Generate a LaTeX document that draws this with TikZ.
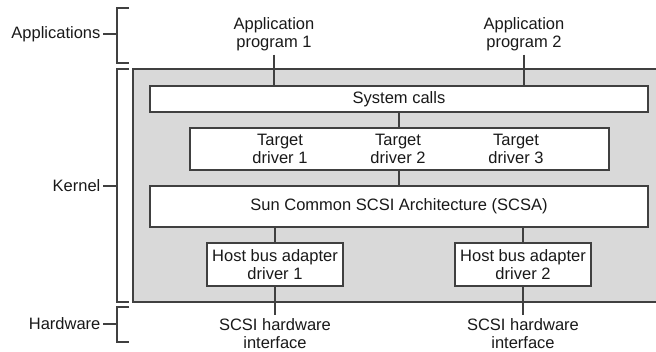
\documentclass[tikz,border=0pt]{standalone}
\usepackage{fontspec}
\setmainfont{Liberation Sans}
\begin{document}
\begin{tikzpicture}[x=1pt,y=-1pt,line width=1.2pt,
    every node/.style={font=\fontsize{16.5}{18}\selectfont,text=black!90,align=center},
    box/.style={draw=black!75,fill=white,inner sep=0pt},
    side/.style={anchor=east,inner sep=2pt}]
      \useasboundingbox (0,0) rectangle (656,351);
      % kernel area
      \fill[black!15] (133,69) rectangle (656,302);
      \draw[black!75] (656,69) -- (133,69) -- (133,302) -- (656,302);
      % boxes
      \draw
        (399,99) node[box,minimum width=498pt,minimum height=26pt] (sys){System calls}
        (399.5,149) node[box,minimum width=419pt,minimum height=42pt] (tgt){}
        (399,206.5) node[box,minimum width=498pt,minimum height=41pt] (scsa){Sun Common SCSI Architecture (SCSA)}
        (275,264.5) node[box,minimum width=136pt,minimum height=43pt] (hba1){Host bus adapter\\driver 1}
        (523,264.5) node[box,minimum width=136pt,minimum height=43pt] (hba2){Host bus adapter\\driver 2};
      \draw
        (280,149) node (t1){Target\\driver 1}
        (398,149) node (t2){Target\\driver 2}
        (516,149) node (t3){Target\\driver 3}
        (274,34) node (app1){Application\\program 1}
        (524,34) node (app2){Application\\program 2}
        (275,334) node (scsi1){SCSI hardware\\interface}
        (523,334) node (scsi2){SCSI hardware\\interface};
      % side labels and brackets
      \draw
        (103,34) node[side] (apps){Applications}
        (103,186) node[side] (kern){Kernel}
        (103,324) node[side] (hw){Hardware};
      \coordinate (bapps) at (117,34);
      \coordinate (bkern) at (117,186);
      \coordinate (bhw) at (117,324);
      \begin{scope}[draw=black!75]
        \draw (129,8) -- (117,8) -- (117,63) -- (129,63);
        \draw (129,69) -- (117,69) -- (117,302) -- (129,302);
        \draw (129,307) -- (117,307) -- (117,342) -- (129,342);
        \draw (apps) to (bapps);
        \draw (kern) to (bkern);
        \draw (hw) to (bhw);
      \end{scope}
      % connectors
      \begin{scope}[draw=black!75]
        \draw (app1.south) to (app1.south |- sys.north);
        \draw (app2.south) to (app2.south |- sys.north);
        \draw (sys.south) to (tgt.north -| sys.south);
        \draw (tgt.south -| scsa.north) to (scsa.north);
        \draw (hba1.north |- scsa.south) to (hba1.north);
        \draw (hba2.north |- scsa.south) to (hba2.north);
        \draw (hba1.south) to (scsi1.north);
        \draw (hba2.south) to (scsi2.north);
      \end{scope}
    \end{tikzpicture}
\end{document}
